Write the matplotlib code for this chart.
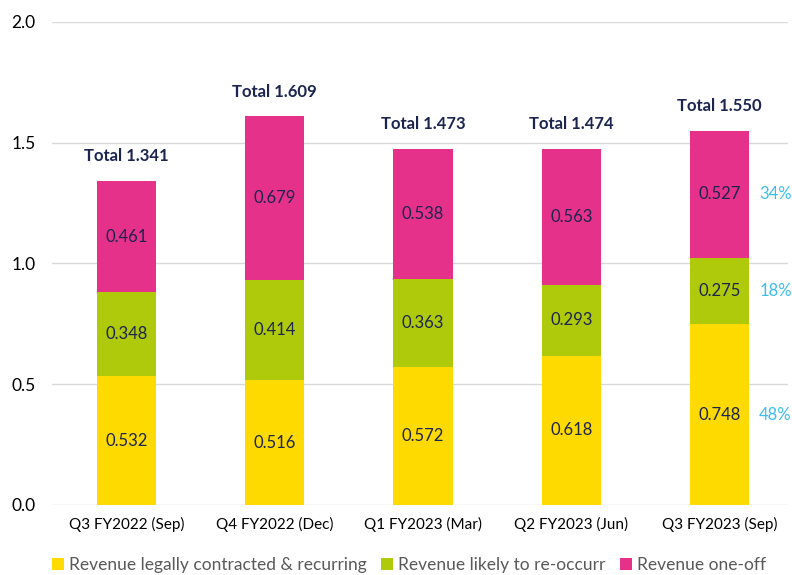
import matplotlib.pyplot as plt
import numpy as np

plt.rcParams['font.family'] = ['Lato', 'DejaVu Sans']

quarters = ['Q3 FY2022 (Sep)', 'Q4 FY2022 (Dec)', 'Q1 FY2023 (Mar)',
            'Q2 FY2023 (Jun)', 'Q3 FY2023 (Sep)']
recurring = [0.532, 0.516, 0.572, 0.618, 0.748]
likely = [0.348, 0.414, 0.363, 0.293, 0.275]
one_off = [0.461, 0.679, 0.538, 0.563, 0.527]
totals = [1.341, 1.609, 1.473, 1.474, 1.550]
last_pct = ['48%', '18%', '34%']

c_yellow = '#FFDA00'
c_green = '#AFCA0B'
c_pink = '#E6318A'
navy = '#1B2550'
light_blue = '#3DBDEF'

fig = plt.figure(figsize=(7.92, 5.75), dpi=100)
ax = fig.add_axes([0.066, 0.122, 0.929, 0.84])

x = np.arange(len(quarters))
w = 0.4
b1 = ax.bar(x, recurring, w, color=c_yellow, label='Revenue legally contracted & recurring', zorder=2)
b2 = ax.bar(x, likely, w, bottom=recurring, color=c_green, label='Revenue likely to re-occurr', zorder=2)
bot3 = np.array(recurring) + np.array(likely)
b3 = ax.bar(x, one_off, w, bottom=bot3, color=c_pink, label='Revenue one-off', zorder=2)

for bars in (b1, b2, b3):
    ax.bar_label(bars, fmt='%.3f', label_type='center', color=navy, fontsize=12)

for i, t in enumerate(totals):
    ax.annotate('Total %.3f' % t, (x[i], t), xytext=(0, 12), textcoords='offset points',
                ha='center', va='bottom', color=navy, fontsize=12, fontweight='bold')

# percentages next to the last bar
segs = [(0, recurring[-1]), (recurring[-1], likely[-1]), (bot3[-1], one_off[-1])]
for (b, h), p in zip(segs, last_pct):
    ax.annotate(p, (x[-1] + w / 2, b + h / 2), xytext=(7, 0), textcoords='offset points',
                ha='left', va='center', color=light_blue, fontsize=12)

ax.set_ylim(0, 2.0)
ax.set_xlim(-0.5, 4.46)
ax.set_yticks([0, 0.5, 1.0, 1.5, 2.0])
ax.set_yticklabels(['0.0', '0.5', '1.0', '1.5', '2.0'], fontsize=12.5)
ax.set_xticks(x)
ax.set_xticklabels(quarters, fontsize=11)
ax.grid(axis='y', color='#D9D9D9', linewidth=1, zorder=0)
for s in ax.spines.values():
    s.set_visible(False)
ax.tick_params(length=0)
ax.tick_params(axis='y', pad=12)
ax.tick_params(axis='x', pad=9)

ax.legend(loc='center', bbox_to_anchor=(0.485, -0.124), ncol=3, frameon=False,
          fontsize=12.5, handlelength=0.7, handleheight=0.7, handletextpad=0.3,
          columnspacing=0.8, labelcolor='#595959')

fig.savefig('out.png', dpi=100)
